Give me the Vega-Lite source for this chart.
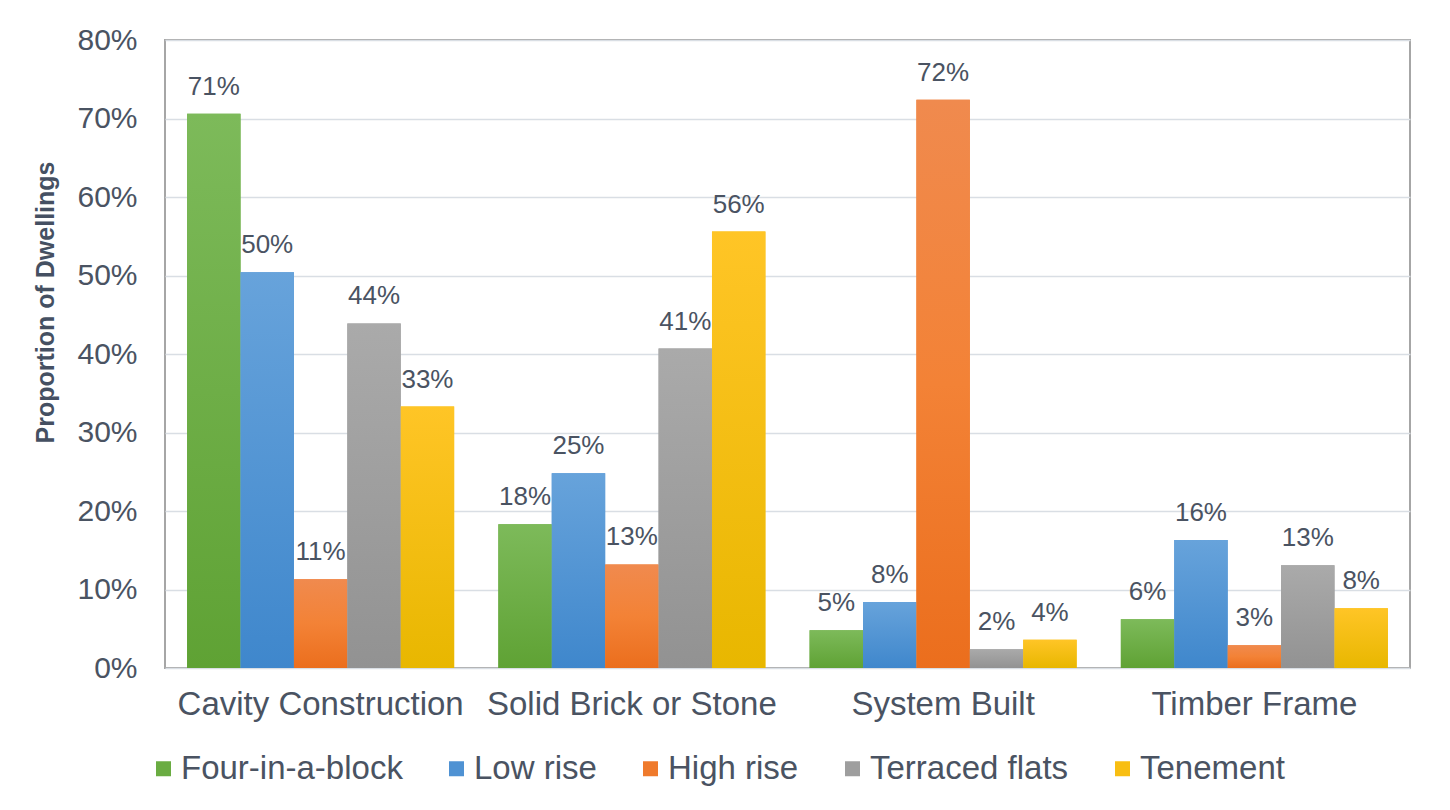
{
  "$schema": "https://vega.github.io/schema/vega-lite/v6.json",
  "width": 1245,
  "height": 628,
  "autosize": "none",
  "padding": {"left": 165, "top": 40, "right": 40, "bottom": 142},
  "background": "white",
  "config": {
    "font": "Liberation Sans",
    "view": {"stroke": "#A6A6A6", "strokeWidth": 2}
  },
  "data": {
    "values": [
      {"construction": "Cavity Construction", "type": "Four-in-a-block", "pct": 0.706},
      {"construction": "Cavity Construction", "type": "Low rise", "pct": 0.504},
      {"construction": "Cavity Construction", "type": "High rise", "pct": 0.113},
      {"construction": "Cavity Construction", "type": "Terraced flats", "pct": 0.439},
      {"construction": "Cavity Construction", "type": "Tenement", "pct": 0.333},
      {"construction": "Solid Brick or Stone", "type": "Four-in-a-block", "pct": 0.183},
      {"construction": "Solid Brick or Stone", "type": "Low rise", "pct": 0.248},
      {"construction": "Solid Brick or Stone", "type": "High rise", "pct": 0.132},
      {"construction": "Solid Brick or Stone", "type": "Terraced flats", "pct": 0.407},
      {"construction": "Solid Brick or Stone", "type": "Tenement", "pct": 0.556},
      {"construction": "System Built", "type": "Four-in-a-block", "pct": 0.048},
      {"construction": "System Built", "type": "Low rise", "pct": 0.084},
      {"construction": "System Built", "type": "High rise", "pct": 0.724},
      {"construction": "System Built", "type": "Terraced flats", "pct": 0.024},
      {"construction": "System Built", "type": "Tenement", "pct": 0.036},
      {"construction": "Timber Frame", "type": "Four-in-a-block", "pct": 0.062},
      {"construction": "Timber Frame", "type": "Low rise", "pct": 0.163},
      {"construction": "Timber Frame", "type": "High rise", "pct": 0.029},
      {"construction": "Timber Frame", "type": "Terraced flats", "pct": 0.131},
      {"construction": "Timber Frame", "type": "Tenement", "pct": 0.076}
    ]
  },
  "encoding": {
    "x": {
      "field": "construction",
      "type": "nominal",
      "sort": ["Cavity Construction", "Solid Brick or Stone", "System Built", "Timber Frame"],
      "scale": {"paddingInner": 0.142, "paddingOuter": 0.071},
      "axis": {
        "title": null,
        "labelAngle": 0,
        "labelFontSize": 33,
        "labelLimit": 0,
        "labelColor": "#4A5362",
        "ticks": false,
        "domain": false,
        "labelPadding": 20
      }
    },
    "xOffset": {
      "field": "type",
      "type": "nominal",
      "sort": ["Four-in-a-block", "Low rise", "High rise", "Terraced flats", "Tenement"],
      "scale": {"paddingInner": 0, "paddingOuter": 0}
    },
    "y": {
      "field": "pct",
      "type": "quantitative",
      "scale": {"domain": [0, 0.8]},
      "axis": {
        "values": [0, 0.1, 0.2, 0.3, 0.4, 0.5, 0.6, 0.7, 0.8],
        "format": ".0%",
        "labelFontSize": 30,
        "labelColor": "#4A5362",
        "labelPadding": 28,
        "ticks": false,
        "domain": false,
        "grid": true,
        "gridColor": "#D9DEE4",
        "gridWidth": 1.5,
        "title": "Proportion of Dwellings",
        "titleFontSize": 25,
        "titleFontWeight": "bold",
        "titleColor": "#455062",
        "titleAngle": -90,
        "titleX": -120,
        "titleY": 262,
        "titleAlign": "center",
        "titleBaseline": "middle"
      }
    }
  },
  "layer": [
    {
      "mark": {"type": "bar"},
      "encoding": {
        "color": {
          "field": "type",
          "type": "nominal",
          "scale": {
            "domain": ["Four-in-a-block", "Low rise", "High rise", "Terraced flats", "Tenement"],
            "range": ["#6AAC42", "#4F92D3", "#EF7A2C", "#9E9E9E", "#F8BE12"]
          },
          "legend": {
            "title": null,
            "orient": "none",
            "legendX": -18,
            "legendY": 712,
            "direction": "horizontal",
            "columns": 5,
            "symbolType": "square",
            "symbolSize": 225,
            "symbolStrokeWidth": 0,
            "labelFontSize": 33,
            "labelLimit": 0,
            "labelColor": "#4A5362",
            "labelOffset": 1,
            "columnPadding": 37
          }
        }
      }
    },
    {
      "transform": [{"filter": "datum.type === 'Four-in-a-block'"}],
      "mark": {
        "type": "bar",
        "color": {"gradient": "linear", "x1": 0, "y1": 0, "x2": 0, "y2": 1,
          "stops": [{"offset": 0, "color": "#7DBA5A"}, {"offset": 1, "color": "#5FA234"}]}
      }
    },
    {
      "transform": [{"filter": "datum.type === 'Low rise'"}],
      "mark": {
        "type": "bar",
        "color": {"gradient": "linear", "x1": 0, "y1": 0, "x2": 0, "y2": 1,
          "stops": [{"offset": 0, "color": "#67A3DB"}, {"offset": 1, "color": "#3F87CC"}]}
      }
    },
    {
      "transform": [{"filter": "datum.type === 'High rise'"}],
      "mark": {
        "type": "bar",
        "color": {"gradient": "linear", "x1": 0, "y1": 0, "x2": 0, "y2": 1,
          "stops": [{"offset": 0, "color": "#F08A4E"}, {"offset": 0.5, "color": "#F38236"}, {"offset": 1, "color": "#EB6E1D"}]}
      }
    },
    {
      "transform": [{"filter": "datum.type === 'Terraced flats'"}],
      "mark": {
        "type": "bar",
        "color": {"gradient": "linear", "x1": 0, "y1": 0, "x2": 0, "y2": 1,
          "stops": [{"offset": 0, "color": "#AAAAAA"}, {"offset": 1, "color": "#929292"}]}
      }
    },
    {
      "transform": [{"filter": "datum.type === 'Tenement'"}],
      "mark": {
        "type": "bar",
        "color": {"gradient": "linear", "x1": 0, "y1": 0, "x2": 0, "y2": 1,
          "stops": [{"offset": 0, "color": "#FFC526"}, {"offset": 1, "color": "#E8B700"}]}
      }
    },
    {
      "mark": {"type": "text", "baseline": "alphabetic", "dy": -19, "fontSize": 26, "color": "#4A5362"},
      "encoding": {
        "text": {"field": "pct", "type": "quantitative", "format": ".0%"}
      }
    }
  ]
}
